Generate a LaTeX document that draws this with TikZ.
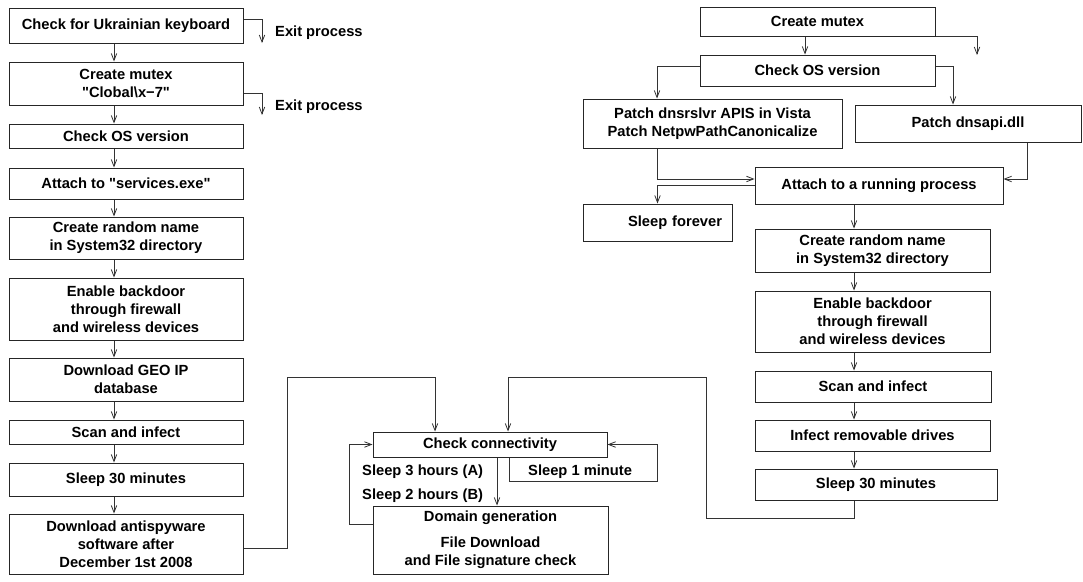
\documentclass[tikz,border=0pt]{standalone}
\usepackage{fontspec}
\setmainfont{Liberation Sans}
\usetikzlibrary{arrows.meta}

\begin{document}
\begin{tikzpicture}[x=1pt,y=-1pt,
	font=\fontsize{14.7}{18}\selectfont\bfseries,
	box/.style={draw=black!85,line width=1pt,inner sep=0pt,align=center},
	link/.style={black!80,line width=0.8pt},
	arr/.style={link,-{Straight Barb[length=7pt,width=5.5pt]}},
	lbl/.style={anchor=west,inner sep=0pt}]
	\useasboundingbox (0,0) rectangle (1083,581);
	% left column
	\node[box,minimum width=234pt,minimum height=35pt] (L1) at (126,25.5) {Check for Ukrainian keyboard};
	\node[box,minimum width=234pt,minimum height=43pt] (L2) at (126,83.5) {Create mutex\\\textquotedbl Clobal\textbackslash x−7\textquotedbl};
	\node[box,minimum width=234pt,minimum height=24pt] (L3) at (126,136) {Check OS version};
	\node[box,minimum width=234pt,minimum height=31pt] (L4) at (126,183.5) {Attach to \textquotedbl services.exe\textquotedbl};
	\node[box,minimum width=234pt,minimum height=42pt] (L5) at (126,238) {Create random name\\in System32 directory};
	\node[box,minimum width=234pt,minimum height=62pt] (L6) at (126,309) {Enable backdoor\\through firewall\\and wireless devices};
	\node[box,minimum width=234pt,minimum height=43pt] (L7) at (126,379.5) {Download GEO IP\\database};
	\node[box,minimum width=234pt,minimum height=24pt] (L8) at (126,432) {Scan and infect};
	\node[box,minimum width=234pt,minimum height=33pt] (L9) at (126,479.5) {Sleep 30 minutes};
	\node[box,minimum width=234pt,minimum height=60pt] (L10) at (126,544) {Download antispyware\\software after\\December 1st 2008};
	\node[lbl] (E1) at (275,33) {Exit process};
	\node[lbl] (E2) at (275,107) {Exit process};
	\coordinate (lx) at (114,0);
	\coordinate (x1) at (262,43);
	\coordinate (x2) at (262,115);
	\foreach \a/\b in {L1/L2,L2/L3,L3/L4,L4/L5,L5/L6,L6/L7,L7/L8,L8/L9,L9/L10}
		\draw[arr] (\a.south -| lx) -- (\b.north -| lx);
	\draw[arr] ([yshift=6.5pt]L1.east) -| (x1);
	\draw[arr] ([yshift=-9.5pt]L2.east) -| (x2);
	% middle loop
	\node[box,minimum width=234pt,minimum height=25pt] (C1) at (490,444.5) {Check connectivity};
	\node[box,minimum width=235pt,minimum height=68pt] (C2) at (490.5,540) {Domain generation\\[8pt]File Download\\and File signature check};
	\node[lbl] (S3) at (362,472) {Sleep 3 hours (A)};
	\node[lbl] (S2) at (362,496) {Sleep 2 hours (B)};
	\node[lbl] (S1) at (528,472) {Sleep 1 minute};
	\coordinate (cx) at (497,0);
	\draw[arr] (C1.south -| cx) -- (C2.north -| cx);
	\draw[arr] ([xshift=19pt]C1.south) |- (657,481) |- (C1.east);
	\draw[arr] ([yshift=16pt]C2.west) -| (349,444.5) -- (C1.west);
	\draw[arr] ([yshift=-4pt]L10.east) -| (287,377) -| ([xshift=-55pt]C1.north);
	% right column
	\node[box,minimum width=235pt,minimum height=29pt] (R1) at (817.5,21.5) {Create mutex};
	\node[box,minimum width=235pt,minimum height=31pt] (R2) at (817.5,70.5) {Check OS version};
	\node[box,minimum width=259pt,minimum height=49pt] (R3) at (712.5,123.5) {Patch dnsrslvr APIS in Vista\\Patch NetpwPathCanonicalize};
	\node[box,minimum width=226pt,minimum height=37pt] (R4) at (968,123.5) {Patch dnsapi.dll};
	\node[box,minimum width=248pt,minimum height=37pt] (R5) at (879,185.5) {Attach to a running process};
	\node[box,minimum width=149pt,minimum height=37pt,inner xsep=10pt,text width=129pt,align=right] (R6) at (657.5,222.5) {Sleep forever};
	\node[box,minimum width=235pt,minimum height=43pt] (R7) at (872.5,250.5) {Create random name\\in System32 directory};
	\node[box,minimum width=235pt,minimum height=61pt] (R8) at (872.5,321.5) {Enable backdoor\\through firewall\\and wireless devices};
	\node[box,minimum width=236pt,minimum height=31pt] (R9) at (873,386.5) {Scan and infect};
	\node[box,minimum width=235pt,minimum height=31pt] (R10) at (872.5,435.5) {Infect removable drives};
	\node[box,minimum width=242pt,minimum height=31pt] (R11) at (876,484.5) {Sleep 30 minutes};
	\coordinate (rx) at (854,0);
	\coordinate (m1) at (977,55);
	\draw[arr] ([xshift=-12.5pt]R1.south) -- ([xshift=-12.5pt]R2.north);
	\draw[arr] (R1.south east) -| (m1);
	\draw[arr] ([yshift=4.5pt]R2.west) -| ([xshift=-55.5pt]R3.north);
	\draw[arr] ([yshift=4.5pt]R2.east) -| ([xshift=-15pt]R4.north);
	\draw[arr] ([xshift=-55.5pt]R3.south) |- ([yshift=6.5pt]R5.west);
	\draw[arr] ([xshift=59pt]R4.south) |- ([yshift=6.5pt]R5.east);
	\draw[arr] (R5.west) -| (R6.north);
	\foreach \a/\b in {R5/R7,R7/R8,R8/R9,R9/R10,R10/R11}
		\draw[arr] (\a.south -| rx) -- (\b.north -| rx);
	\draw[arr] (R11.south -| rx) |- (706,518) -- (706,377) -| ([xshift=18pt]C1.north);
\end{tikzpicture}
\end{document}
